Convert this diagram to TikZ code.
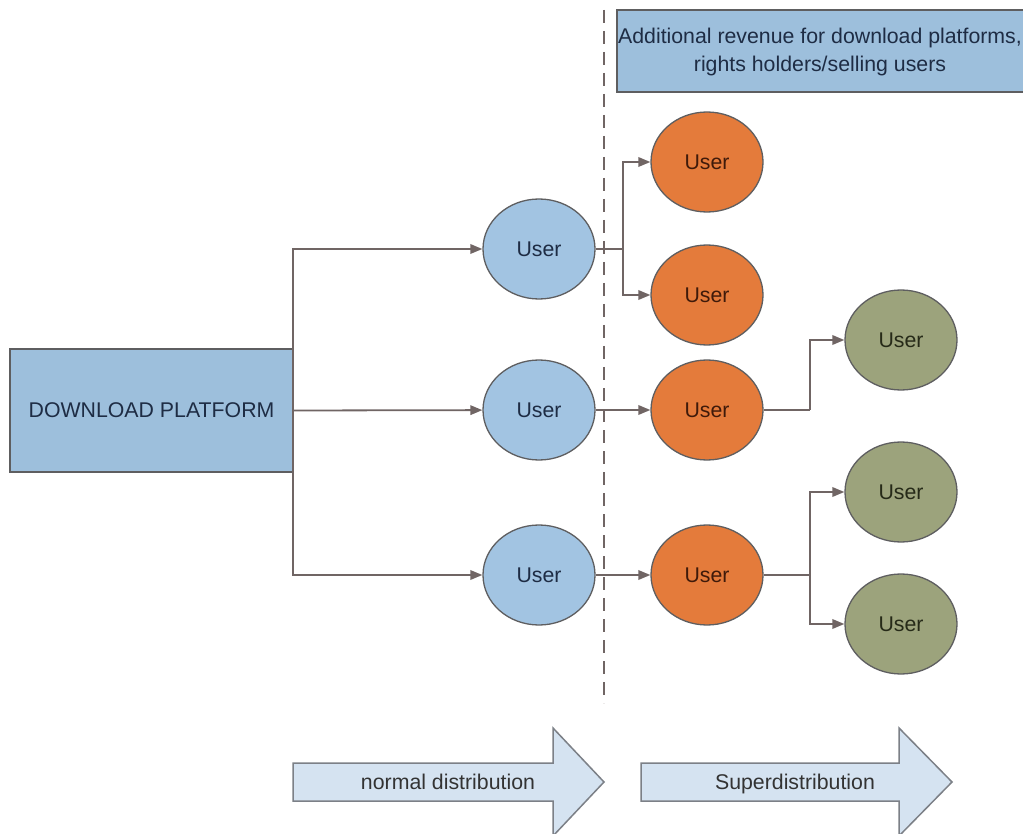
\documentclass[tikz,border=0pt]{standalone}
\usepackage{fontspec}
\setmainfont{Liberation Sans}
\usetikzlibrary{shapes.geometric,arrows.meta}

\definecolor{boxblue}{HTML}{9DBFDC}
\definecolor{userblue}{HTML}{A2C4E2}
\definecolor{userorange}{HTML}{E47B3B}
\definecolor{usergreen}{HTML}{9CA37C}
\definecolor{edgegray}{HTML}{5E5E60}
\definecolor{linkgray}{HTML}{706564}
\definecolor{bandblue}{HTML}{D5E3F1}
\definecolor{bandedge}{HTML}{7C8087}
\definecolor{txtblue}{HTML}{1E2C44}
\definecolor{txtbrown}{HTML}{3F1A0A}
\definecolor{txtgreen}{HTML}{262A18}

\tikzset{
  labeltext/.style={font=\fontsize{21.3}{28}\selectfont},
  userbase/.style={ellipse, draw=edgegray, line width=1.3pt, minimum width=112pt,
    minimum height=100pt, inner sep=0pt, labeltext},
  ublue/.style={userbase, fill=userblue, text=txtblue},
  uorange/.style={userbase, fill=userorange, text=txtbrown},
  ugreen/.style={userbase, fill=usergreen, text=txtgreen},
  panel/.style={draw=edgegray, line width=1.8pt, fill=boxblue},
  conn/.style={draw=linkgray, line width=1.8pt,
    -{Triangle[length=12pt,width=9.5pt]}},
  plainconn/.style={draw=linkgray, line width=1.8pt},
  band/.style={draw=bandedge, line width=1.5pt, fill=bandblue, line join=miter},
  bandtext/.style={labeltext, text=black!80, anchor=base}
}

\begin{document}
\begin{tikzpicture}[x=1pt,y=-1pt]
  \clip (0,0) rectangle (1023,834);
  \fill[white] (0,0) rectangle (1023,834);

  % separator between normal distribution and superdistribution
  \draw[linkgray, line width=1.6pt, dash pattern=on 13pt off 8pt] (604,10) -- (604,703);

  % source and revenue boxes
  \draw[panel] (10,349) rectangle (293,472);
  \node[labeltext, text=txtblue] (dp) at (151.5,410.5) {DOWNLOAD PLATFORM};
  \coordinate (dpe) at (293,410.5);

  \draw[panel] (617,10) rectangle (1030,92);
  \node[labeltext, text=txtblue, align=center, inner sep=0pt] (rev) at (820,52)
    {Additional revenue for download platforms,\\rights holders/selling users};

  % users
  \node[ublue] (b1) at (539,249) {User};
  \node[ublue] (b2) at (539,410) {User};
  \node[ublue] (b3) at (539,575) {User};

  \node[uorange] (o1) at (707,162) {User};
  \node[uorange] (o2) at (707,295) {User};
  \node[uorange] (o3) at (707,410) {User};
  \node[uorange] (o4) at (707,575) {User};

  \node[ugreen] (g1) at (901,340) {User};
  \node[ugreen] (g2) at (901,492) {User};
  \node[ugreen] (g3) at (901,624) {User};

  % branching points
  \coordinate (j1) at (623,249);
  \coordinate (j2) at (810,410);
  \coordinate (j3) at (810,575);

  % platform to first users
  \draw[conn] (dpe) -- (b2);
  \draw[conn] (dpe) |- (b1);
  \draw[conn] (dpe) |- (b3);

  % first users pass content on
  \draw[plainconn] (b1.east) -- (j1);
  \draw[conn] (j1) |- (o1);
  \draw[conn] (j1) |- (o2);
  \draw[conn] (b2) -- (o3);
  \draw[conn] (b3) -- (o4);

  % second generation
  \draw[plainconn] (o3.east) -- (j2);
  \draw[conn] (j2) |- (g1);
  \draw[plainconn] (o4.east) -- (j3);
  \draw[conn] (j3) |- (g2);
  \draw[conn] (j3) |- (g3);

  % distribution phases
  \draw[band] (293,763) -- (553,763) -- (553,728) -- (604,782) -- (553,836)
    -- (553,801) -- (293,801) -- cycle;
  \node[bandtext] (nd) at (448,789.5) {normal distribution};

  \draw[band] (641,763) -- (899,763) -- (899,728) -- (952,782) -- (899,836)
    -- (899,801) -- (641,801) -- cycle;
  \node[bandtext] (sd) at (795,789.5) {Superdistribution};
\end{tikzpicture}
\end{document}
